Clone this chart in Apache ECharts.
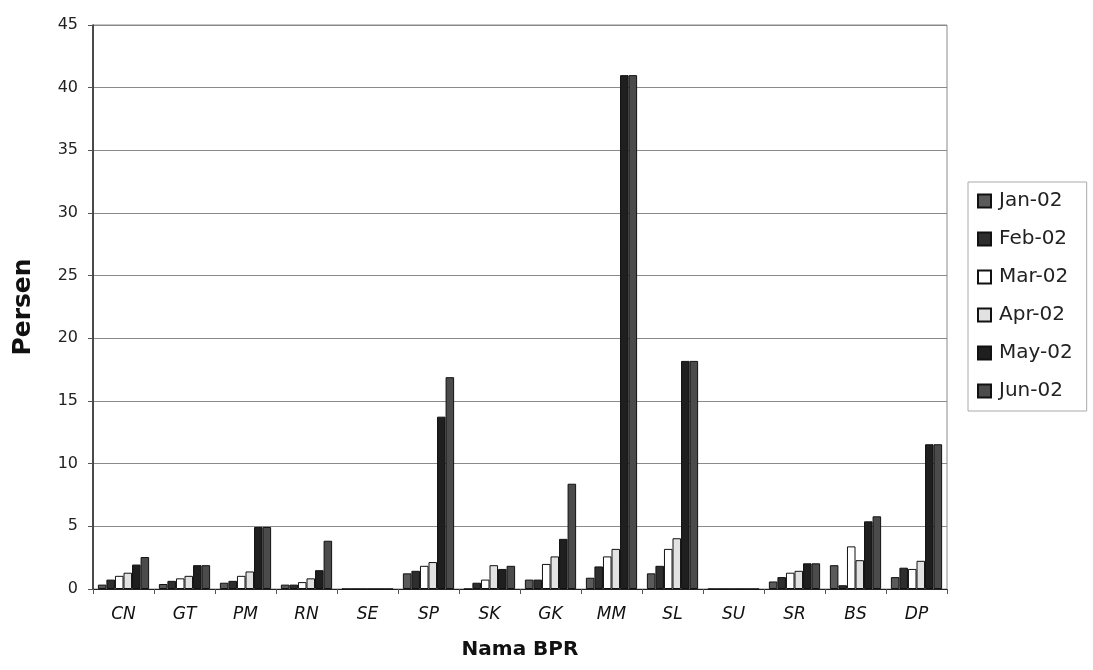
<!DOCTYPE html>
<html>
<head>
<meta charset="utf-8">
<script src="https://cdn.jsdelivr.net/npm/echarts@6/dist/echarts.min.js"></script>
<style>
  html, body { margin: 0; padding: 0; background: #fff; }
  #chart { width: 1093px; height: 670px; }
</style>
</head>
<body>
<div id="chart"></div>
<script>
// nama BPR
const categories = ['CN', 'GT', 'PM', 'RN', 'SE', 'SP', 'SK', 'GK', 'MM', 'SL', 'SU', 'SR', 'BS', 'DP']
const months = ['Jan-02', 'Feb-02', 'Mar-02', 'Apr-02', 'May-02', 'Jun-02']

// persen per bulan, urut sesuai categories
const jan02 = [0.35, 0.4, 0.5, 0.35, 0, 1.25, 0, 0.75, 0.9, 1.25, 0, 0.6, 1.9, 0.95]
const feb02 = [0.75, 0.65, 0.65, 0.35, 0, 1.45, 0.5, 0.75, 1.8, 1.85, 0, 0.95, 0.3, 1.7]
const mar02 = [1.05, 0.85, 1.05, 0.55, 0, 1.85, 0.75, 2.0, 2.6, 3.2, 0, 1.3, 3.4, 1.6]
const apr02 = [1.3, 1.05, 1.4, 0.85, 0, 2.15, 1.9, 2.6, 3.2, 4.05, 0, 1.45, 2.3, 2.25]
const may02 = [1.95, 1.9, 4.95, 1.5, 0, 13.75, 1.6, 4.0, 41, 18.2, 0, 2.05, 5.4, 11.55]
const jun02 = [2.55, 1.9, 4.95, 3.85, 0, 16.9, 1.85, 8.4, 41, 18.2, 0, 2.05, 5.8, 11.55]

const yTicks = [0, 45, 5] // min, max, interval

const seriesData = [jan02, feb02, mar02, apr02, may02, jun02]
const barColors = ['#5a5a5a', '#2e2e2e', '#ffffff', '#e2e2e2', '#1f1f1f', '#4b4b4b']

const chart = echarts.init(document.getElementById('chart'))
const option = {
  backgroundColor: '#fff',
  textStyle: { fontFamily: 'DejaVu Sans, Liberation Sans, sans-serif' },
  animation: false,
  grid: {
    left: 93,
    right: 146,
    top: 25,
    bottom: 81,
    show: true,
    borderColor: '#8a8a8a',
    borderWidth: 1
  },
  legend: {
    orient: 'vertical',
    left: 968,
    top: 182,
    padding: [9, 14, 10, 9],
    itemGap: 18,
    itemWidth: 13,
    itemHeight: 13,
    borderColor: '#aaa',
    borderWidth: 1,
    icon: 'rect',
    textStyle: { fontSize: 20, color: '#222', padding: [0, 0, 0, 3] },
    data: months
  },
  xAxis: {
    type: 'category',
    data: categories,
    name: 'Nama BPR',
    nameLocation: 'middle',
    nameGap: 51,
    nameTextStyle: { fontSize: 20, fontWeight: 'bold', color: '#111' },
    axisLine: { lineStyle: { color: '#222', width: 1 } },
    axisTick: { show: true, length: 5, lineStyle: { color: '#555' } },
    axisLabel: { fontSize: 17, fontStyle: 'italic', color: '#111', margin: 17 }
  },
  yAxis: {
    type: 'value',
    min: yTicks[0],
    max: yTicks[1],
    interval: yTicks[2],
    name: 'Persen',
    nameLocation: 'middle',
    nameGap: 57,
    nameRotate: 90,
    nameTextStyle: { fontSize: 25, fontWeight: 'bold', color: '#111' },
    axisLine: { show: true, lineStyle: { color: '#222', width: 1.5 } },
    axisTick: { show: true, length: 5, lineStyle: { color: '#555' } },
    axisLabel: { fontSize: 16, color: '#222', margin: 15 },
    splitLine: { lineStyle: { color: '#8a8a8a', width: 1 } }
  },
  series: months.map((m, i) => ({
    name: m,
    type: 'bar',
    data: seriesData[i],
    barGap: '0%',
    barCategoryGap: '16%',
    itemStyle: {
      color: barColors[i],
      borderColor: '#111',
      borderWidth: 1
    }
  }))
}
chart.setOption(option)
</script>
</body>
</html>
